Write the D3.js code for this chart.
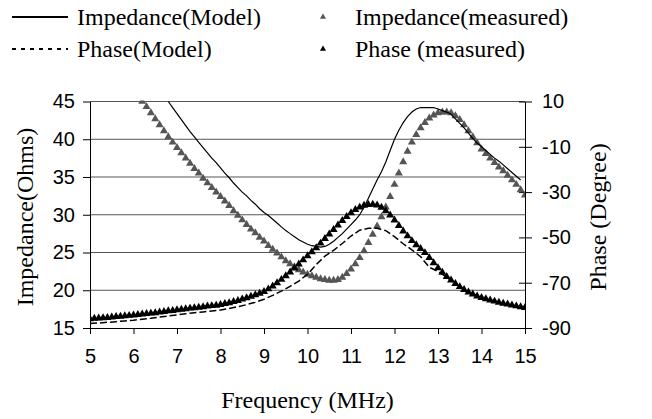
<!DOCTYPE html>
<html>
<head>
<meta charset="utf-8">
<script src="https://cdn.jsdelivr.net/npm/d3@7"></script>
<style>
  body { margin: 0; background: #fff; }
  .tick text { font-family: "Liberation Sans", Arial, sans-serif; font-size: 20px; fill: #000; }
  .title { font-family: "Liberation Serif", "Times New Roman", serif; font-size: 24px; fill: #000; }
  .legend text { font-family: "Liberation Serif", "Times New Roman", serif; font-size: 24px; fill: #000; }
</style>
</head>
<body>
<div id="chart"></div>
<script>
// frequency (MHz) and impedance (Ohms), measured
const impMeasFreq = [6.2,6.3,6.4,6.5,6.6,6.7,6.8,6.9,7.0,7.1,7.2,7.3,7.4,7.5,7.6,7.7,7.8,7.9,8.0,8.1,8.2,8.3,8.4,8.5,8.6,8.7,8.8,8.9,9.0,9.1,9.2,9.3,9.4,9.5,9.6,9.7,9.8,9.9,10.0,10.1,10.2,10.3,10.4,10.5,10.6,10.7,10.8,10.9,11.0,11.1,11.2,11.3,11.4,11.5,11.6,11.7,11.8,11.9,12.0,12.1,12.2,12.3,12.4,12.5,12.6,12.7,12.8,12.9,13.0,13.1,13.2,13.3,13.4,13.5,13.6,13.7,13.8,13.9,14.0,14.1,14.2,14.3,14.4,14.5,14.6,14.7,14.8,14.9,15.0];
const impMeas = [45.0,44.3,43.5,42.7,41.9,41.1,40.3,39.6,38.9,38.2,37.5,36.8,36.1,35.5,34.8,34.2,33.6,33.0,32.4,31.8,31.2,30.5,29.9,29.3,28.7,28.1,27.6,27.0,26.5,25.9,25.4,24.9,24.4,23.9,23.5,23.1,22.7,22.4,22.1,21.9,21.7,21.5,21.4,21.3,21.3,21.4,21.7,22.2,22.8,23.5,24.3,25.2,26.3,27.4,28.5,29.7,31.0,32.4,34.0,35.5,37.0,38.4,39.6,40.6,41.5,42.2,42.8,43.2,43.5,43.6,43.6,43.5,43.1,42.6,41.9,41.1,40.3,39.5,38.7,38.1,37.5,36.9,36.3,35.8,35.2,34.6,34.0,33.3,32.6];

// impedance model
const impModelFreq = [6.8,6.9,7.0,7.1,7.2,7.3,7.4,7.5,7.6,7.7,7.8,7.9,8.0,8.1,8.2,8.3,8.4,8.5,8.6,8.7,8.8,8.9,9.0,9.1,9.2,9.3,9.4,9.5,9.6,9.7,9.8,9.9,10.0,10.1,10.2,10.3,10.4,10.5,10.6,10.7,10.8,10.9,11.0,11.1,11.2,11.3,11.4,11.5,11.6,11.7,11.8,11.9,12.0,12.1,12.2,12.3,12.4,12.5,12.6,12.7,12.8,12.9,13.0,13.1,13.2,13.3,13.4,13.5,13.6,13.7,13.8,13.9,14.0,14.1,14.2,14.3,14.4,14.5,14.6,14.7,14.8,14.9];
const impModel = [45.0,44.2,43.4,42.6,41.8,41.0,40.3,39.6,38.9,38.2,37.5,36.9,36.2,35.5,34.9,34.2,33.6,33.0,32.5,31.9,31.4,30.8,30.3,29.9,29.4,28.9,28.4,27.9,27.5,27.1,26.7,26.4,26.1,25.9,25.8,25.7,25.8,26.1,26.5,27.0,27.5,28.1,28.7,29.3,30.0,31.0,32.2,33.4,34.6,35.7,37.0,38.5,40.0,41.2,42.2,43.0,43.6,44.0,44.2,44.2,44.2,44.2,44.0,43.8,43.6,43.3,42.7,42.1,41.5,40.8,40.1,39.5,39.0,38.5,38.0,37.5,37.1,36.6,36.1,35.6,35.1,34.6];

// phase (degree), measured
const phaseMeasFreq = [5.0,5.1,5.2,5.3,5.4,5.5,5.6,5.7,5.8,5.9,6.0,6.1,6.2,6.3,6.4,6.5,6.6,6.7,6.8,6.9,7.0,7.1,7.2,7.3,7.4,7.5,7.6,7.7,7.8,7.9,8.0,8.1,8.2,8.3,8.4,8.5,8.6,8.7,8.8,8.9,9.0,9.1,9.2,9.3,9.4,9.5,9.6,9.7,9.8,9.9,10.0,10.1,10.2,10.3,10.4,10.5,10.6,10.7,10.8,10.9,11.0,11.1,11.2,11.3,11.4,11.5,11.6,11.7,11.8,11.9,12.0,12.1,12.2,12.3,12.4,12.5,12.6,12.7,12.8,12.9,13.0,13.1,13.2,13.3,13.4,13.5,13.6,13.7,13.8,13.9,14.0,14.1,14.2,14.3,14.4,14.5,14.6,14.7,14.8,14.9,15.0];
const phaseMeas = [-86.0,-85.8,-85.7,-85.5,-85.4,-85.2,-85.0,-84.9,-84.7,-84.5,-84.3,-84.1,-83.9,-83.7,-83.5,-83.3,-83.0,-82.8,-82.5,-82.3,-82.0,-81.8,-81.6,-81.3,-81.1,-80.9,-80.7,-80.4,-80.2,-80.0,-79.7,-79.3,-78.9,-78.4,-77.9,-77.3,-76.7,-76.1,-75.4,-74.7,-74.0,-72.8,-71.5,-70.1,-68.6,-67.0,-65.3,-63.6,-61.8,-60.0,-58.2,-56.4,-54.6,-52.6,-50.6,-48.6,-46.6,-44.6,-42.6,-40.8,-39.2,-37.8,-36.7,-35.9,-35.5,-35.4,-35.8,-36.8,-38.3,-40.2,-42.4,-44.8,-47.2,-49.4,-51.5,-53.3,-55.0,-56.8,-59.0,-61.3,-63.5,-65.5,-67.3,-68.9,-70.4,-71.8,-73.1,-74.2,-75.1,-75.9,-76.6,-77.2,-77.7,-78.2,-78.7,-79.1,-79.5,-79.9,-80.3,-80.7,-81.0];

// phase model
const phaseModelFreq = [5.0,5.2,5.4,5.6,5.8,6.0,6.2,6.4,6.6,6.8,7.0,7.2,7.4,7.6,7.8,8.0,8.2,8.4,8.6,8.8,9.0,9.2,9.4,9.6,9.8,10.0,10.2,10.4,10.6,10.8,11.0,11.2,11.4,11.6,11.8,12.0,12.2,12.4,12.6,12.8,13.0,13.2,13.4,13.6,13.8,14.0,14.2,14.4,14.6,14.8,15.0];
const phaseModel = [-88.0,-87.8,-87.5,-87.2,-86.9,-86.6,-86.1,-85.7,-85.2,-84.7,-84.2,-83.7,-83.3,-82.9,-82.5,-82.1,-81.4,-80.6,-79.7,-78.6,-77.3,-75.6,-73.7,-71.6,-69.3,-66.3,-62.0,-58.3,-55.7,-52.7,-49.4,-46.8,-46.0,-46.0,-47.0,-49.7,-52.8,-55.5,-58.5,-63.2,-65.0,-67.6,-70.4,-73.1,-75.1,-76.6,-77.7,-78.7,-79.5,-80.3,-81.0];

const xTicks = [5,6,7,8,9,10,11,12,13,14,15];
const impTicks = [15,20,25,30,35,40,45];
const phaseTicks = [10,-10,-30,-50,-70,-90];

const legendItems = [
  { label: "Impedance(Model)", kind: "solid" },
  { label: "Impedance(measured)", kind: "gray" },
  { label: "Phase(Model)", kind: "dash" },
  { label: "Phase (measured)", kind: "black" }
];

const width = 652, height = 419;
const plotLeft = 90, plotRight = 525, plotTop = 101.5, plotBottom = 328;

const svg = d3.select("#chart").append("svg")
  .attr("width", width).attr("height", height);

const x = d3.scaleLinear().domain([5, 15]).range([plotLeft, plotRight]);
const yImp = d3.scaleLinear().domain([15, 45]).range([plotBottom, plotTop]);
const yPh = d3.scaleLinear().domain([-90, 10]).range([plotBottom, plotTop]);

svg.append("defs").append("clipPath").attr("id", "plot")
  .append("rect").attr("x", plotLeft).attr("y", plotTop - 1)
  .attr("width", plotRight - plotLeft).attr("height", plotBottom - plotTop + 2);

// gridlines
svg.append("g").selectAll("line")
  .data(impTicks.slice(1))
  .enter().append("line")
  .attr("x1", plotLeft).attr("x2", plotRight)
  .attr("y1", d => yImp(d)).attr("y2", d => yImp(d))
  .attr("stroke", "#555").attr("stroke-width", 1);

// axes (plain hyphen for negatives, as in the original)
const fmt = d => String(d);

svg.append("g")
  .attr("transform", `translate(0,${plotBottom})`)
  .call(d3.axisBottom(x).tickValues(xTicks).tickFormat(fmt).tickSize(6).tickSizeOuter(0).tickPadding(15));

svg.append("g")
  .attr("transform", `translate(${plotLeft},0)`)
  .call(d3.axisLeft(yImp).tickValues(impTicks).tickFormat(fmt).tickSize(7).tickSizeOuter(0).tickPadding(8));

const rightAxis = svg.append("g")
  .attr("transform", `translate(${plotRight},0)`)
  .call(d3.axisRight(yPh).tickValues(phaseTicks).tickFormat(fmt).tickSize(7).tickSizeOuter(0).tickPadding(10));
rightAxis.selectAll(".tick line").attr("x1", -6);

svg.selectAll(".domain").attr("stroke", "#000");
svg.selectAll(".tick line").attr("stroke", "#000");

// lines
const impLine = d3.line().x(d => x(d[0])).y(d => yImp(d[1]));
const phLine = d3.line().x(d => x(d[0])).y(d => yPh(d[1]));

const plot = svg.append("g").attr("clip-path", "url(#plot)");

const tri = d3.symbol().type(d3.symbolTriangle).size(28);
const triSmall = d3.symbol().type(d3.symbolTriangle).size(16);

plot.append("g").selectAll("path")
  .data(d3.zip(impMeasFreq, impMeas))
  .enter().append("path")
  .attr("d", tri)
  .attr("transform", d => `translate(${x(d[0])},${yImp(d[1])})`)
  .attr("fill", "#555");

plot.append("g").selectAll("path")
  .data(d3.zip(phaseMeasFreq, phaseMeas))
  .enter().append("path")
  .attr("d", tri)
  .attr("transform", d => `translate(${x(d[0])},${yPh(d[1])})`)
  .attr("fill", "#000");

plot.append("path")
  .datum(d3.zip(impModelFreq, impModel))
  .attr("d", impLine)
  .attr("fill", "none").attr("stroke", "#000").attr("stroke-width", 1.2);

plot.append("path")
  .datum(d3.zip(phaseModelFreq, phaseModel))
  .attr("d", phLine)
  .attr("fill", "none").attr("stroke", "#000").attr("stroke-width", 1.5)
  .attr("stroke-dasharray", "7,3");

// titles
svg.append("text").attr("class", "title")
  .attr("x", (plotLeft + plotRight) / 2).attr("y", 408)
  .attr("text-anchor", "middle").text("Frequency (MHz)");

svg.append("text").attr("class", "title")
  .attr("transform", "translate(33,217) rotate(-90)")
  .attr("text-anchor", "middle").text("Impedance(Ohms)");

svg.append("text").attr("class", "title")
  .attr("transform", "translate(606,217) rotate(-90)")
  .attr("text-anchor", "middle").text("Phase (Degree)");

// legend
const legend = svg.append("g").attr("class", "legend");
const lg = legend.selectAll("g")
  .data(legendItems)
  .enter().append("g")
  .attr("transform", (d, i) => `translate(${i % 2 === 0 ? 12 : 323},${i < 2 ? 17 : 49})`);

lg.each(function(d) {
  const g = d3.select(this);
  if (d.kind === "solid" || d.kind === "dash") {
    g.append("line").attr("x1", 0).attr("x2", 56).attr("y1", 0).attr("y2", 0)
      .attr("stroke", "#000").attr("stroke-width", 1.8)
      .attr("stroke-dasharray", d.kind === "dash" ? "4,5" : null);
    g.append("text").attr("x", 65).attr("y", 8).text(d.label);
  } else {
    g.append("path").attr("d", triSmall)
      .attr("fill", d.kind === "gray" ? "#555" : "#000");
    g.append("text").attr("x", 32).attr("y", 8).text(d.label);
  }
});
</script>
</body>
</html>
